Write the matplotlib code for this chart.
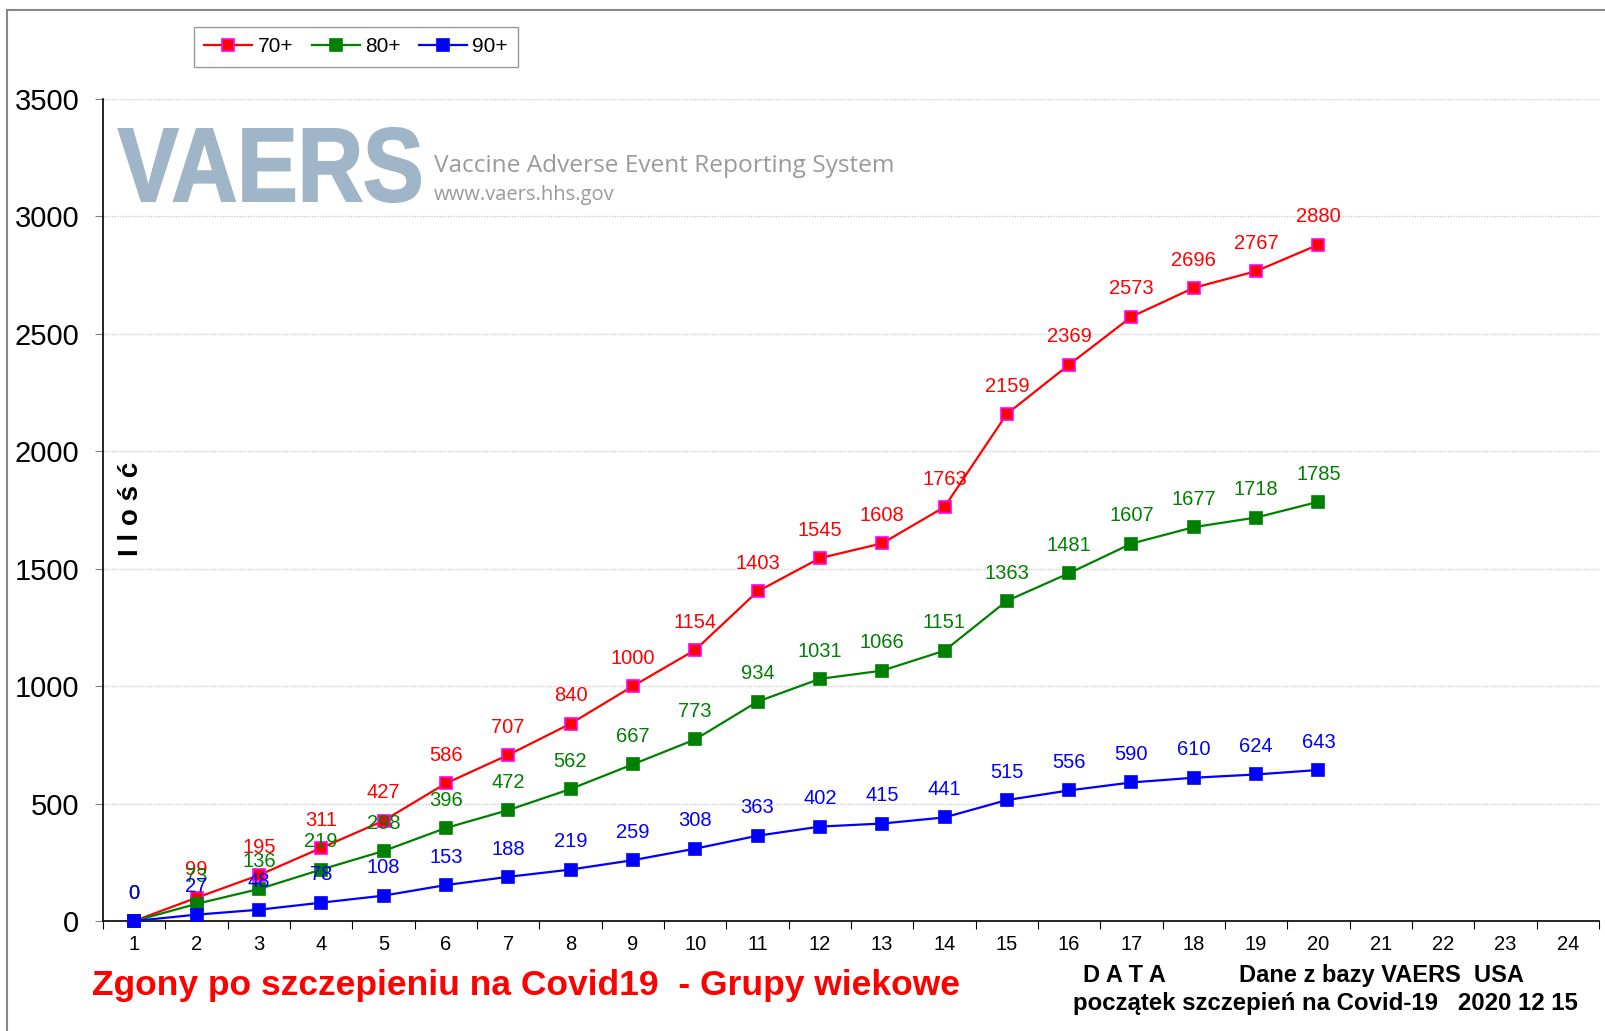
import matplotlib.pyplot as plt
import numpy as np
from matplotlib.textpath import TextPath
from matplotlib.font_manager import FontProperties
from matplotlib.patches import PathPatch
from matplotlib.transforms import Affine2D
from matplotlib.lines import Line2D

plt.rcParams['font.family'] = ['Liberation Sans', 'DejaVu Sans']

# dane
dni = list(range(1, 21))
g70 = [0, 99, 195, 311, 427, 586, 707, 840, 1000, 1154, 1403, 1545, 1608, 1763, 2159, 2369, 2573, 2696, 2767, 2880]
g80 = [0, 73, 136, 219, 298, 396, 472, 562, 667, 773, 934, 1031, 1066, 1151, 1363, 1481, 1607, 1677, 1718, 1785]
g90 = [0, 27, 48, 78, 108, 153, 188, 219, 259, 308, 363, 402, 415, 441, 515, 556, 590, 610, 624, 643]
x_labels = [str(i) for i in range(1, 25)]

W, H = 1605, 1031
fig = plt.figure(figsize=(W / 100, H / 100), dpi=100)
ax = fig.add_axes([103 / W, 1 - 921 / H, (1599 - 103) / W, (921 - 99) / H])

serie = [(g70, '70+', 'red', '#ff00ff'),
         (g80, '80+', 'green', 'green'),
         (g90, '90+', 'blue', 'blue')]
z = 3
for vals, name, col, edge in serie:
    ax.plot(dni, vals, color=col, lw=1.6, marker='s', ms=9, mfc=col, mec=edge, mew=1.2,
            label=name, zorder=z, clip_on=False)
    for xi, yi in zip(dni, vals):
        ax.annotate(str(yi), (xi, yi), xytext=(0, 20), textcoords='offset points',
                    ha='center', va='center', fontsize=14.5, color=col, zorder=z + 10)
    z += 1

ax.set_xlim(0.5, 24.5)
ax.set_ylim(0, 3500)
ax.set_yticks(np.arange(0, 3501, 500))
ax.set_xticks(np.arange(0.5, 24.6, 1))
ax.set_xticklabels([])
ax.set_xticks(range(1, 25), minor=True)
ax.set_xticklabels(x_labels, minor=True, fontsize=14.5)
ax.tick_params(axis='x', which='major', length=6, direction='out', color='black')
ax.tick_params(axis='x', which='minor', length=0, pad=10)
ax.tick_params(axis='y', length=6, color='gray', labelsize=21, pad=11)
ax.grid(axis='y', color='#cccccc', ls=(0, (1, 1)), lw=1)
ax.set_axisbelow(True)
for s in ['top', 'right']:
    ax.spines[s].set_visible(False)
ax.spines['left'].set_linewidth(1.2)
ax.spines['bottom'].set_linewidth(1.2)

# logo VAERS
tp = TextPath((0, 0), 'VAERS', size=100, prop=FontProperties(family='Liberation Sans', weight='bold'))
v = tp.vertices
x0, x1, y0, y1 = v[:, 0].min(), v[:, 0].max(), v[:, 1].min(), v[:, 1].max()
bx0, bx1, by0, by1 = 118, 420, H - 202, H - 128
tr = Affine2D().translate(-x0, -y0).scale((bx1 - bx0) / (x1 - x0), (by1 - by0) / (y1 - y0)).translate(bx0, by0)
fig.add_artist(PathPatch(tp, transform=tr, facecolor='#a0b5c8', edgecolor='#a0b5c8', lw=1.5, zorder=1))
fig.text(434 / W, 1 - 166 / H, 'Vaccine Adverse Event Reporting System', fontsize=17.6,
         family='Open Sans', color='#9a9a9a', va='center', ha='left')
fig.text(434 / W, 1 - 195 / H, 'www.vaers.hhs.gov', fontsize=14.5,
         family='Open Sans', color='#9a9a9a', va='center', ha='left')

ax.text(131 / W, 1 - 509 / H, 'I l o ś ć', transform=fig.transFigure, rotation=90,
        fontsize=20, fontweight='bold', ha='center', va='center')

fig.legend(loc='upper left', bbox_to_anchor=(194 / W, 1 - 27 / H), ncol=3, fontsize=15,
           frameon=True, fancybox=False, edgecolor='#808080', handlelength=2.3,
           columnspacing=0.9, handletextpad=0.25, borderpad=0.5, borderaxespad=0)

fig.text(92 / W, 1 - 995 / H, 'Zgony po szczepieniu na Covid19  - Grupy wiekowe',
         fontsize=25.5, fontweight='bold', color='red', ha='left', va='baseline')
fig.text(1083 / W, 1 - 982 / H, 'D A T A',
         fontsize=17, fontweight='bold', ha='left', va='baseline')
fig.text(1239 / W, 1 - 982 / H, 'Dane z bazy VAERS  USA',
         fontsize=17, fontweight='bold', ha='left', va='baseline')
fig.text(1073 / W, 1 - 1010 / H, 'początek szczepień na Covid-19   2020 12 15',
         fontsize=17.3, fontweight='bold', ha='left', va='baseline')

# ramka
fig.add_artist(Line2D([7 / W, 7 / W], [0, 1 - 10 / H], transform=fig.transFigure, color='#888888', lw=1.5))
fig.add_artist(Line2D([7 / W, 1], [1 - 10 / H, 1 - 10 / H], transform=fig.transFigure, color='#888888', lw=1.5))

fig.savefig('out.png', dpi=100)
